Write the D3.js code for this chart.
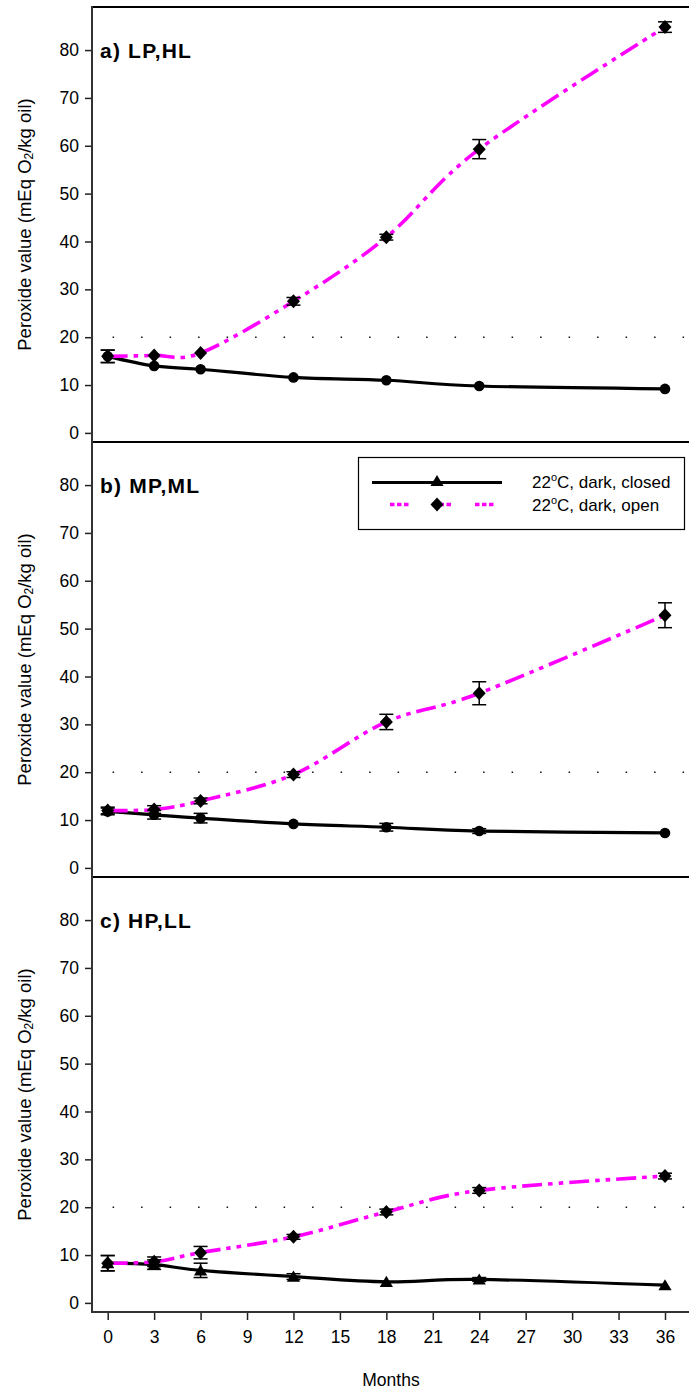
<!DOCTYPE html>
<html><head><meta charset="utf-8">
<script src="https://cdn.jsdelivr.net/npm/d3@7"></script>
<style>body{margin:0;background:#fff}svg{display:block}text{font-family:Arial,"Liberation Sans",sans-serif;fill:#000}</style>
</head><body><svg id="c" width="689" height="1389"></svg>
<script>
// ---------------- data ----------------
const months = [0, 3, 6, 12, 18, 24, 36];
const xTicks = [0, 3, 6, 9, 12, 15, 18, 21, 24, 27, 30, 33, 36];
const yTicks = [0, 10, 20, 30, 40, 50, 60, 70, 80];
const panelTitles = ["a) LP,HL", "b) MP,ML", "c) HP,LL"];
const seriesNames = ["22°C, dark, closed", "22°C, dark, open"];
const thresholdValue = 20;

const closedA = [16.0, 14.0, 13.3, 11.6, 11.0, 9.8, 9.2];
const closedAErr = [1.3, 0, 0, 0, 0, 0, 0];
const openA = [16.0, 16.2, 16.7, 27.5, 40.9, 59.3, 84.8];
const openAErr = [1.3, 0, 0, 0.8, 0.6, 2.0, 1.1];

const closedB = [11.8, 11.1, 10.4, 9.2, 8.5, 7.7, 7.3];
const closedBErr = [0.7, 0.9, 1.0, 0, 0.8, 0.5, 0];
const openB = [12.0, 12.2, 14.0, 19.5, 30.5, 36.5, 52.8];
const openBErr = [0.7, 0.8, 0.6, 0.6, 1.6, 2.4, 2.6];

const closedC = [8.3, 8.0, 6.8, 5.5, 4.4, 4.9, 3.7];
const closedCErr = [1.6, 1.0, 1.5, 0.6, 0, 0.4, 0];
const openC = [8.3, 8.6, 10.5, 13.8, 19.0, 23.5, 26.5];
const openCErr = [1.6, 1.0, 1.3, 0.5, 0.6, 0.6, 0.6];

const closedSeries = [closedA, closedB, closedC];
const closedErrs = [closedAErr, closedBErr, closedCErr];
const openSeries = [openA, openB, openC];
const openErrs = [openAErr, openBErr, openCErr];
const closedMarker = ["circle", "circle", "triangle"];

// ---------------- layout ----------------
const svg = d3.select("#c");
const L = 92, R = 689;
const panelTops = [7, 442, 877];
const panelH = 435;
const bottomY = panelTops[2] + panelH; // 1312
const MAG = "#ff00ff";

const x = d3.scaleLinear().domain([0, 36]).range([107.7, 665]);

function diamond(s) { return `M0,${-s}L${s*0.93},0L0,${s}L${-s*0.93},0Z`; }
function triangle(s) { return `M0,${-s}L${s*1.1},${s*0.85}L${-s*1.1},${s*0.85}Z`; }

panelTops.forEach((top, i) => {
  const y = d3.scaleLinear().domain([-1.9, 89]).range([top + panelH, top]);
  const g = svg.append("g");

  // y axis ticks
  const ax = g.append("g").attr("transform", `translate(${L},0)`)
    .call(d3.axisLeft(y).tickValues(yTicks).tickSize(7).tickPadding(6));
  ax.select(".domain").remove();
  ax.selectAll(".tick line").attr("stroke", "#222").attr("stroke-width", 1.5);
  ax.selectAll(".tick text").style("font-size", "17.5px").attr("fill", "#000");

  // top / separator line
  g.append("line").attr("x1", L).attr("x2", R).attr("y1", top).attr("y2", top)
    .attr("stroke", "#000").attr("stroke-width", 2);

  // threshold dotted line
  g.append("line").attr("x1", 112.6).attr("x2", R)
    .attr("y1", y(thresholdValue)).attr("y2", y(thresholdValue))
    .attr("stroke", "#111").attr("stroke-width", 1.6)
    .attr("stroke-dasharray", "1.5,27");

  // y label
  const lab = g.append("text")
    .attr("transform", `translate(24,${top + panelH / 2}) rotate(-90)`)
    .attr("text-anchor", "middle").attr("dominant-baseline", "central")
    .style("font-size", "18.5px");
  lab.append("tspan").text("Peroxide value (mEq O");
  lab.append("tspan").text("2").style("font-size", "12px").attr("dy", 5);
  lab.append("tspan").text("/kg oil)").attr("dy", -5);

  // title
  g.append("text").attr("x", 100).attr("y", top + 50.5)
    .style("font-size", "21px").style("font-weight", "bold")
    .style("letter-spacing", "1.2px").text(panelTitles[i]);

  const closed = months.map((m, k) => ({ m, v: closedSeries[i][k], e: closedErrs[i][k] }));
  const open = months.map((m, k) => ({ m, v: openSeries[i][k], e: openErrs[i][k] }));

  const line = d3.line().x(d => x(d.m)).y(d => y(d.v)).curve(d3.curveCatmullRom.alpha(0));

  g.append("path").attr("d", line(closed)).attr("fill", "none")
    .attr("stroke", "#000").attr("stroke-width", 3.2);
  g.append("path").attr("d", line(open)).attr("fill", "none")
    .attr("stroke", MAG).attr("stroke-width", 3.6)
    .attr("stroke-dasharray", "20,6,4.5,6,4.5,6");

  // error bars
  const errs = closed.concat(open).filter(d => d.e > 0);
  const eb = g.append("g").attr("stroke", "#000").attr("stroke-width", 1.5);
  errs.forEach(d => {
    const cx = x(d.m), y1 = y(d.v - d.e), y2 = y(d.v + d.e);
    eb.append("line").attr("x1", cx).attr("x2", cx).attr("y1", y1).attr("y2", y2);
    eb.append("line").attr("x1", cx - 7).attr("x2", cx + 7).attr("y1", y1).attr("y2", y1);
    eb.append("line").attr("x1", cx - 7).attr("x2", cx + 7).attr("y1", y2).attr("y2", y2);
  });

  // markers
  if (closedMarker[i] === "circle") {
    g.selectAll(".cm").data(closed).enter().append("circle")
      .attr("cx", d => x(d.m)).attr("cy", d => y(d.v)).attr("r", 5.3).attr("fill", "#000");
  } else {
    g.selectAll(".cm").data(closed).enter().append("path")
      .attr("transform", d => `translate(${x(d.m)},${y(d.v)})`)
      .attr("d", triangle(6)).attr("fill", "#000");
  }
  g.selectAll(".om").data(open).enter().append("path")
    .attr("transform", d => `translate(${x(d.m)},${y(d.v)})`)
    .attr("d", diamond(7)).attr("fill", "#000");
});

// left axis line
svg.append("line").attr("x1", L).attr("x2", L).attr("y1", 6).attr("y2", bottomY + 1)
  .attr("stroke", "#333").attr("stroke-width", 2);

// bottom axis
const bx = svg.append("g").attr("transform", `translate(0,${bottomY})`)
  .call(d3.axisBottom(x).tickValues(xTicks).tickSize(8).tickPadding(11));
bx.select(".domain").remove();
bx.selectAll(".tick line").attr("stroke", "#222").attr("stroke-width", 1.5);
bx.selectAll(".tick text").style("font-size", "17.5px").attr("fill", "#000");
svg.append("line").attr("x1", L).attr("x2", R).attr("y1", bottomY).attr("y2", bottomY)
  .attr("stroke", "#333").attr("stroke-width", 2);
svg.append("text").attr("x", 391).attr("y", 1386).attr("text-anchor", "middle")
  .style("font-size", "17.5px").text("Months");

// legend (in panel b)
const lg = svg.append("g");
lg.append("rect").attr("x", 358.5).attr("y", 457.5).attr("width", 326).attr("height", 72)
  .attr("fill", "#fff").attr("stroke", "#000").attr("stroke-width", 1.2);
lg.append("line").attr("x1", 372).attr("x2", 502).attr("y1", 482.5).attr("y2", 482.5)
  .attr("stroke", "#000").attr("stroke-width", 3.2);
lg.append("path").attr("transform", "translate(437,481)").attr("d", triangle(6)).attr("fill", "#000");
lg.append("line").attr("x1", 390).attr("x2", 496).attr("y1", 504.5).attr("y2", 504.5)
  .attr("stroke", MAG).attr("stroke-width", 3.6)
  .attr("stroke-dasharray", "4.5,2.5,4.5,2.5,4.5,24");
lg.append("path").attr("transform", "translate(437,504.5)").attr("d", diamond(7)).attr("fill", "#000");
[488, 511].forEach((by, k) => {
  const t = lg.append("text").attr("x", 532).attr("y", by).style("font-size", "17px");
  const parts = seriesNames[k].split("°");
  t.append("tspan").text(parts[0]);
  t.append("tspan").text("o").style("font-size", "11px").attr("dy", -7);
  t.append("tspan").text(parts[1]).attr("dy", 7);
});
</script></body></html>
